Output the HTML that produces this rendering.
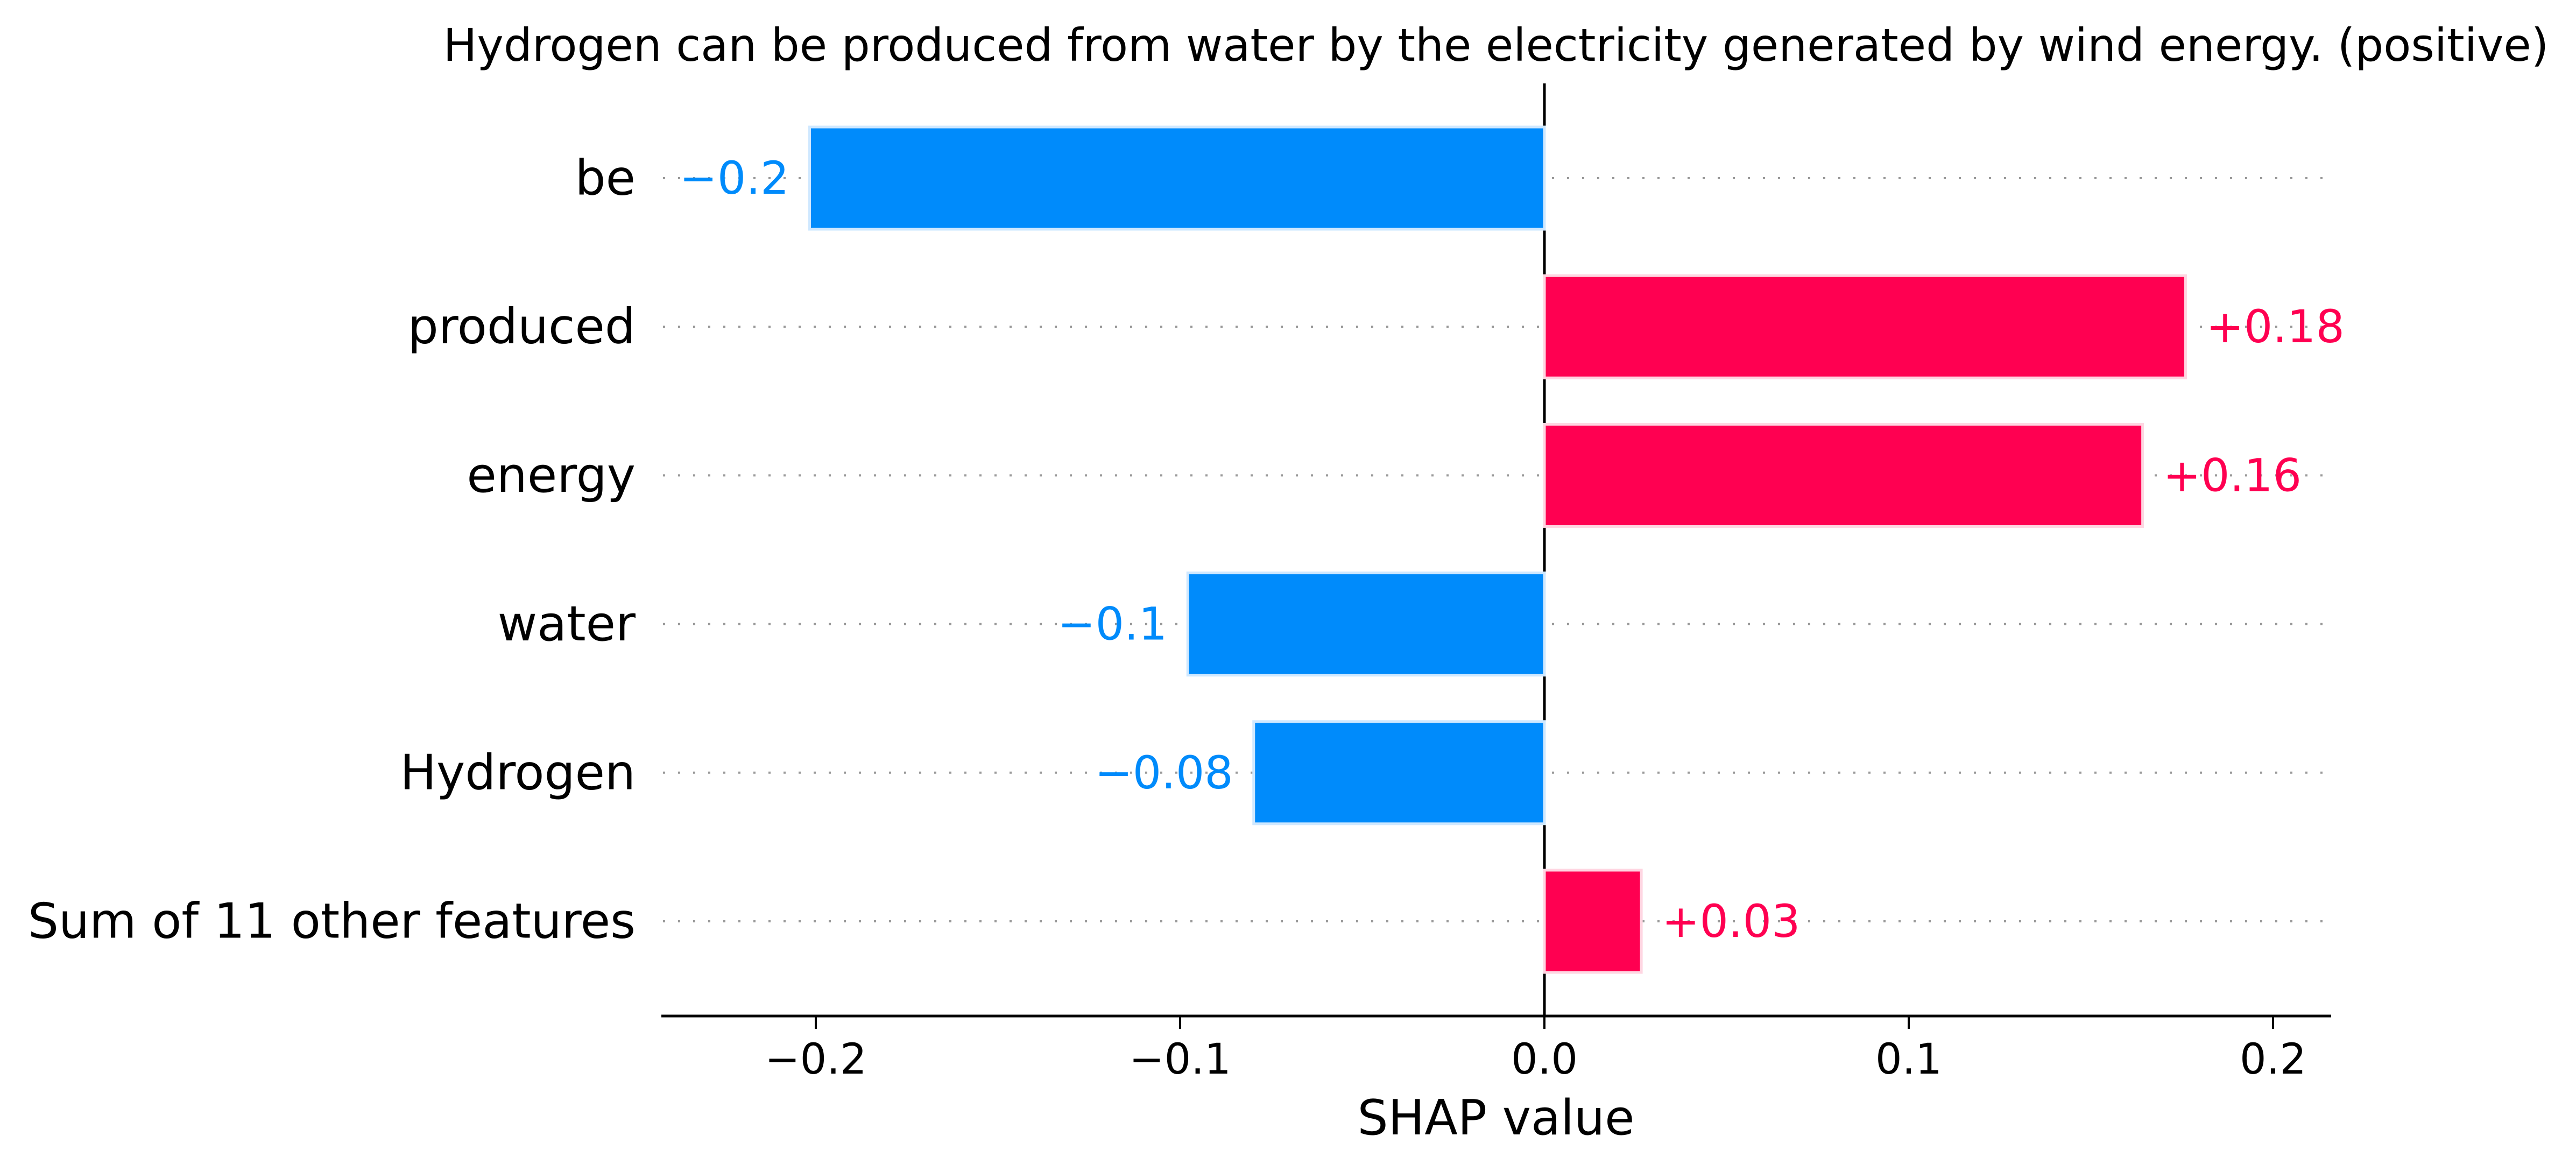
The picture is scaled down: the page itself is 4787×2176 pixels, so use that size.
<!DOCTYPE html>
<html><head><meta charset="utf-8"><style>
html,body{margin:0;padding:0;background:#fff;}
svg{display:block;font-family:"DejaVu Sans","Liberation Sans",sans-serif;}
</style></head><body>
<svg id="chart" width="4787" height="2176" viewBox="0 0 4787 2176" xmlns="http://www.w3.org/2000/svg">
<text x="2780" y="113" font-size="83.5" text-anchor="middle" fill="#000">Hydrogen can be produced from water by the electricity generated by wind energy. (positive)</text>
<g id="grid"></g>
<line x1="2870" y1="155" x2="2870" y2="1888" stroke="#000" stroke-width="5"/>
<g id="bars"></g>
<g id="axis"></g>
<text x="2780" y="2108" font-size="90" text-anchor="middle" fill="#000">SHAP value</text>
</svg>
<script>
const features = ["be","produced","energy","water","Hydrogen","Sum of 11 other features"];
const values = [-0.2017, 0.176, 0.1642, -0.0979, -0.0798, 0.0266];
const valueLabels = ["\u22120.2","+0.18","+0.16","\u22120.1","\u22120.08","+0.03"];
const ticks = [-0.2,-0.1,0,0.1,0.2];
const tickLabels = ["\u22120.2","\u22120.1","0.0","0.1","0.2"];

const NS = "http://www.w3.org/2000/svg";
const X0 = 2870, XS = 6770;
const x = v => X0 + v * XS;
const y = i => 331 + i * 276.2;
const BH = 190;
function mk(tag, attrs, parent){const e=document.createElementNS(NS,tag);for(const k in attrs)e.setAttribute(k,attrs[k]);parent.appendChild(e);return e;}
const grid=document.getElementById('grid'), bars=document.getElementById('bars'), axis=document.getElementById('axis');

features.forEach((f,i)=>{
  const cy=y(i);
  const g=mk('line',{x1:1232,x2:4322,y1:cy,y2:cy,stroke:'#999','stroke-width':4,'stroke-dasharray':'4 24'},grid);
  
  
  const lab=mk('text',{x:1181,y:cy,'font-size':90,'text-anchor':'end','dominant-baseline':'central',fill:'#000'},grid);
  lab.textContent=f;
  
  
  const v=values[i], pos=v>=0;
  const x1=Math.min(x(0),x(v)), w=Math.abs(x(v)-x(0));
  const col=pos?'#ff0051':'#008bfb';
  const r=mk('rect',{x:x1,y:cy-BH/2,width:w,height:BH,fill:col,stroke:pos?'#ffd6e2':'#cfe8ff','stroke-width':5},bars);
  
  
  const t=mk('text',{x:pos?x(v)+38:x(v)-38,y:cy,'font-size':84,'text-anchor':pos?'start':'end','dominant-baseline':'central',fill:col},bars);
  t.textContent=valueLabels[i];
  
  
});

const sp=mk('line',{x1:1229,x2:4332,y1:1888,y2:1888,stroke:'#000','stroke-width':5},axis);


ticks.forEach((t,i)=>{
  const tl=mk('line',{x1:x(t),x2:x(t),y1:1888,y2:1912,stroke:'#000','stroke-width':4},axis);
  
  
  const tx=mk('text',{x:x(t),y:1995,'font-size':78,'text-anchor':'middle',fill:'#000'},axis);
  tx.textContent=tickLabels[i];
  
  
});
</script>
</body></html>
